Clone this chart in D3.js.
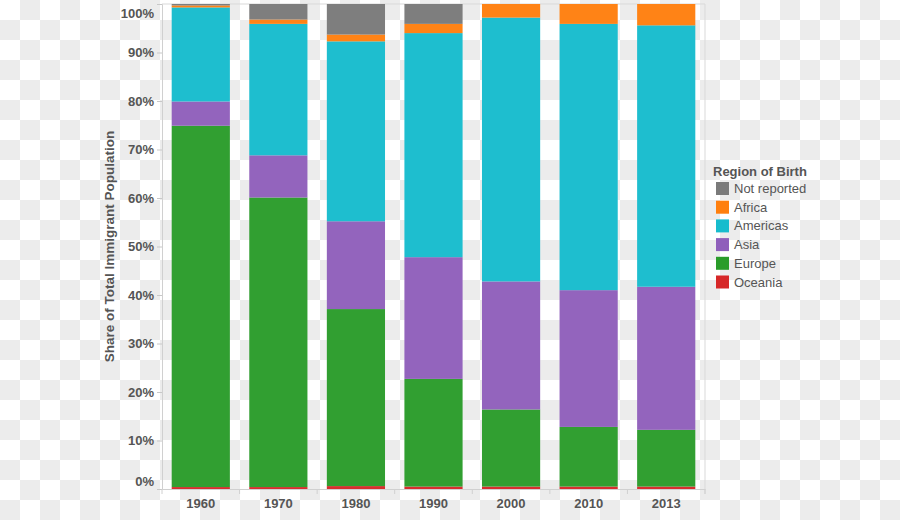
<!DOCTYPE html>
<html>
<head>
<meta charset="utf-8">
<script src="https://cdn.jsdelivr.net/npm/d3@7"></script>
<style>
  html, body { margin: 0; padding: 0; background: #fff; }
  svg { display: block; font-family: "Liberation Sans", Arial, sans-serif; }
</style>
</head>
<body>
<svg id="chart" width="900" height="520"></svg>
<script>
const years = ["1960", "1970", "1980", "1990", "2000", "2010", "2013"];
const regions = ["Oceania", "Europe", "Asia", "Americas", "Africa", "Not reported"];
const legendOrder = ["Not reported", "Africa", "Americas", "Asia", "Europe", "Oceania"];
const oceania     = [0.4, 0.4, 0.6, 0.5, 0.5, 0.5, 0.5];
const europe      = [74.5, 59.7, 36.5, 22.2, 15.9, 12.3, 11.7];
const asia        = [5.0, 8.7, 18.1, 25.1, 26.4, 28.2, 29.5];
const americas    = [19.4, 27.1, 37.1, 46.2, 54.4, 54.9, 53.9];
const africa      = [0.4, 0.9, 1.4, 1.9, 2.8, 4.1, 4.4];
const notReported = [0.3, 3.2, 6.3, 4.1, 0.0, 0.0, 0.0];
const yTicks = [0, 10, 20, 30, 40, 50, 60, 70, 80, 90, 100];
const colors = ["#d62728", "#2a9c2a", "#8f5fbb", "#17bccd", "#ff7f0e", "#7a7a7a"];

const seriesValues = [oceania, europe, asia, americas, africa, notReported];
const rows = years.map((yr, i) => {
  const r = { year: yr };
  regions.forEach((reg, k) => r[reg] = seriesValues[k][i]);
  return r;
});

const svg = d3.select("#chart");
const W = 900, H = 520;

// checkerboard backdrop
const defs = svg.append("defs");
const pat = defs.append("pattern").attr("id", "checker")
  .attr("width", 40).attr("height", 40).attr("patternUnits", "userSpaceOnUse");
pat.append("rect").attr("width", 40).attr("height", 40).attr("fill", "#ffffff");
pat.append("rect").attr("x", 20).attr("y", 0).attr("width", 20).attr("height", 20).attr("fill", "#ececec");
pat.append("rect").attr("x", 0).attr("y", 20).attr("width", 20).attr("height", 20).attr("fill", "#ececec");
svg.append("rect").attr("width", W).attr("height", H).attr("fill", "url(#checker)");

const plotL = 162, plotR = 705, plotT = 4, plotB = 489;
const x = d3.scaleBand().domain(years).range([plotL, plotR]).paddingInner(0.25).paddingOuter(0.125);
const y = d3.scaleLinear().domain([0, 100]).range([plotB, plotT]);
const color = d3.scaleOrdinal().domain(regions).range(colors);

// plot frame
svg.append("line").attr("x1", plotL).attr("x2", plotR).attr("y1", plotT).attr("y2", plotT)
  .attr("stroke", "#d9d9d9");
svg.append("line").attr("x1", plotR).attr("x2", plotR).attr("y1", plotT).attr("y2", plotB + 5)
  .attr("stroke", "#d9d9d9");

const stack = d3.stack().keys(regions);
const layers = stack(rows);

svg.append("g").selectAll("g").data(layers).join("g")
  .attr("fill", d => color(d.key))
  .attr("fill-opacity", 0.97)
  .selectAll("rect").data(d => d).join("rect")
  .attr("x", d => x(d.data.year))
  .attr("width", x.bandwidth())
  .attr("y", d => y(d[1]))
  .attr("height", d => Math.max(0, y(d[0]) - y(d[1])));

// y axis
const yAxis = d3.axisLeft(y).tickValues(yTicks).tickFormat(d => d + "%").tickSize(5).tickPadding(3);
const gy = svg.append("g").attr("transform", `translate(${plotL},0)`).call(yAxis);
gy.select(".domain").attr("stroke", "#d0d0d0");
gy.selectAll(".tick line").attr("stroke", "#c8c8c8");
gy.selectAll(".tick text")
  .attr("fill", "#555").attr("font-size", 13).attr("font-weight", "bold")
  .attr("font-family", "'Liberation Sans', Arial, sans-serif")
  .attr("dy", d => d === 100 ? "1.05em" : (d === 0 ? "-0.25em" : "0.32em"));

// x axis
const xAxis = d3.axisBottom(x).tickSize(0).tickPadding(10);
const gx = svg.append("g").attr("transform", `translate(0,${plotB})`).call(xAxis);
gx.select(".domain").attr("stroke", "#d0d0d0");
gx.selectAll(".tick text")
  .attr("fill", "#555").attr("font-size", 13).attr("font-weight", "bold")
  .attr("font-family", "'Liberation Sans', Arial, sans-serif");
// category divider ticks
const step = x.step();
const dividers = d3.range(years.length + 1).map(i => plotL + i * step);
svg.append("g").selectAll("line").data(dividers).join("line")
  .attr("x1", d => d).attr("x2", d => d)
  .attr("y1", plotB).attr("y2", plotB + 5)
  .attr("stroke", "#d0d0d0");

// y title
svg.append("text")
  .attr("transform", `translate(114,${(plotT + plotB) / 2}) rotate(-90)`)
  .attr("text-anchor", "middle")
  .attr("fill", "#555").attr("font-size", 13.5).attr("font-weight", "bold")
  .text("Share of Total Immigrant Population");

// legend
const lg = svg.append("g").attr("transform", "translate(713,0)");
lg.append("text").attr("x", 0).attr("y", 176)
  .attr("fill", "#555").attr("font-size", 13).attr("font-weight", "bold")
  .text("Region of Birth");
const items = lg.selectAll("g.item").data(legendOrder).join("g")
  .attr("class", "item")
  .attr("transform", (d, i) => `translate(0,${188 + i * 18.7})`);
items.append("rect").attr("x", 3).attr("y", -6).attr("width", 13).attr("height", 13)
  .attr("fill", d => color(d));
items.append("text").attr("x", 21).attr("y", 5)
  .attr("fill", "#555").attr("font-size", 13)
  .text(d => d);
</script>
</body>
</html>
